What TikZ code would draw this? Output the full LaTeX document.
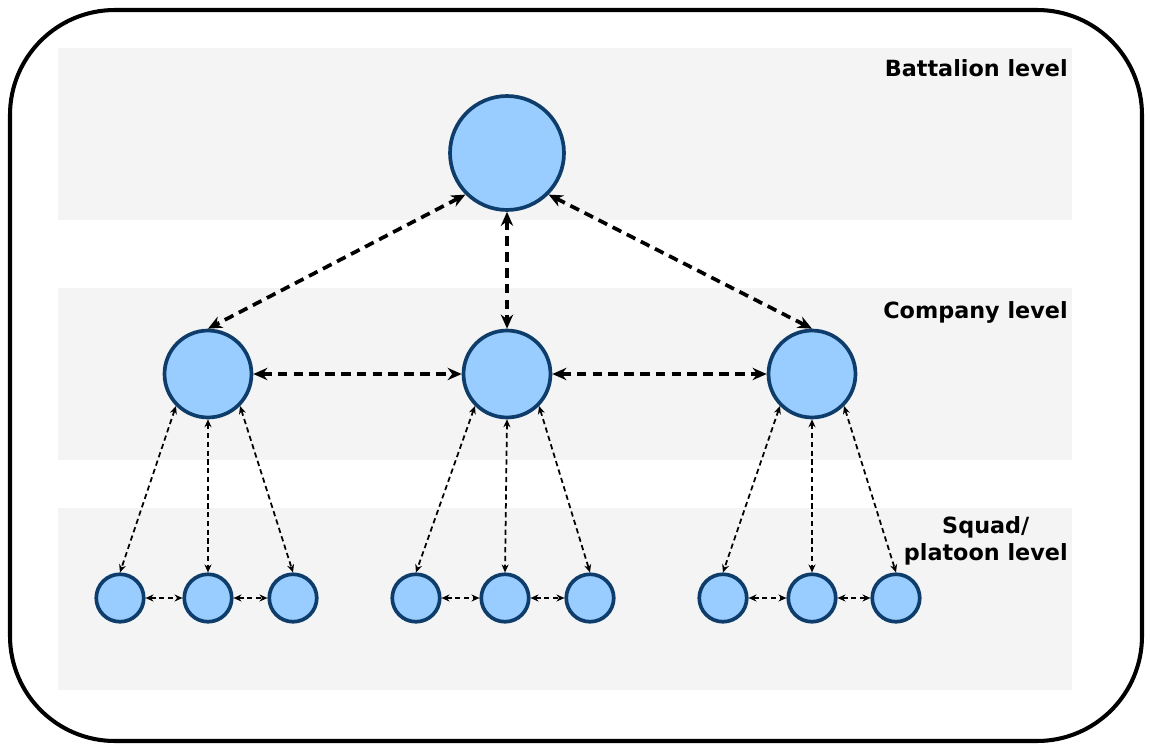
\documentclass[tikz,border=0pt]{standalone}
\usepackage{fontspec}
\setmainfont{DejaVu Sans}
\usetikzlibrary{arrows.meta}
\definecolor{nodefill}{HTML}{99CCFF}
\definecolor{nodeline}{HTML}{0E3D6B}
\definecolor{band}{HTML}{F4F4F4}

\begin{document}
\begin{tikzpicture}[x=0.02cm, y=-0.02cm,
        big/.style={circle, draw=nodeline, fill=nodefill, line width=2.1pt, inner sep=0pt, minimum size=2.28cm},
        mid/.style={circle, draw=nodeline, fill=nodefill, line width=2.1pt, inner sep=0pt, minimum size=1.74cm},
        small/.style={circle, draw=nodeline, fill=nodefill, line width=2.1pt, inner sep=0pt, minimum size=0.95cm},
        thick link/.style={{Stealth[length=8pt,width=7pt]}-{Stealth[length=8pt,width=7pt]}, line width=2.1pt, dash pattern=on 5.5pt off 3.5pt},
        thin link/.style={{Stealth[length=4.5pt,width=4pt]}-{Stealth[length=4.5pt,width=4pt]}, line width=1pt, dash pattern=on 3pt off 2pt},
        lvl/.style={font=\bfseries\fontsize{12.7}{15.5}\selectfont, anchor=east, inner sep=0pt, align=center}]
        \useasboundingbox (0, 0) rectangle (1150, 747);

        % level bands
        \fill[band] (58, 48) rectangle (1072, 220);
        \fill[band] (58, 288) rectangle (1072, 460);
        \fill[band] (58, 508) rectangle (1072, 690);
        \draw[line width=2.3pt, rounded corners=2.1cm] (10, 10) rectangle (1142, 741);

        \node[lvl] (tbat) at (1068, 68) {Battalion level};
        \node[lvl] (tcom) at (1068, 312) {Company level};
        \node[lvl] (tsqu) at (1068, 541) {Squad/\\platoon level};

        % battalion and companies
        \node[big] (bat) at (507, 153) {};
        \node[mid] (c1) at (208, 374) {};
        \node[mid] (c2) at (507, 374) {};
        \node[mid] (c3) at (812, 374) {};

        % squads
        \node[small] (s11) at (120, 598) {};
        \node[small] (s12) at (208, 598) {};
        \node[small] (s13) at (293, 598) {};
        \node[small] (s21) at (416, 598) {};
        \node[small] (s22) at (505, 598) {};
        \node[small] (s23) at (590, 598) {};
        \node[small] (s31) at (723, 598) {};
        \node[small] (s32) at (812, 598) {};
        \node[small] (s33) at (896, 598) {};

        \draw[thick link] (bat.south west) -- (c1.north);
        \draw[thick link] (bat.south) -- (c2.north);
        \draw[thick link] (bat.south east) -- (c3.north);
        \draw[thick link] (c1.east) -- (c2.west);
        \draw[thick link] (c2.east) -- (c3.west);

        \draw[thin link] (c1.south west) -- (s11.north);
        \draw[thin link] (c1.south) -- (s12.north);
        \draw[thin link] (c1.south east) -- (s13.north);
        \draw[thin link] (c2.south west) -- (s21.north);
        \draw[thin link] (c2.south) -- (s22.north);
        \draw[thin link] (c2.south east) -- (s23.north);
        \draw[thin link] (c3.south west) -- (s31.north);
        \draw[thin link] (c3.south) -- (s32.north);
        \draw[thin link] (c3.south east) -- (s33.north);

        \draw[thin link] (s11.east) -- (s12.west);
        \draw[thin link] (s12.east) -- (s13.west);
        \draw[thin link] (s21.east) -- (s22.west);
        \draw[thin link] (s22.east) -- (s23.west);
        \draw[thin link] (s31.east) -- (s32.west);
        \draw[thin link] (s32.east) -- (s33.west);
    \end{tikzpicture}
\end{document}
